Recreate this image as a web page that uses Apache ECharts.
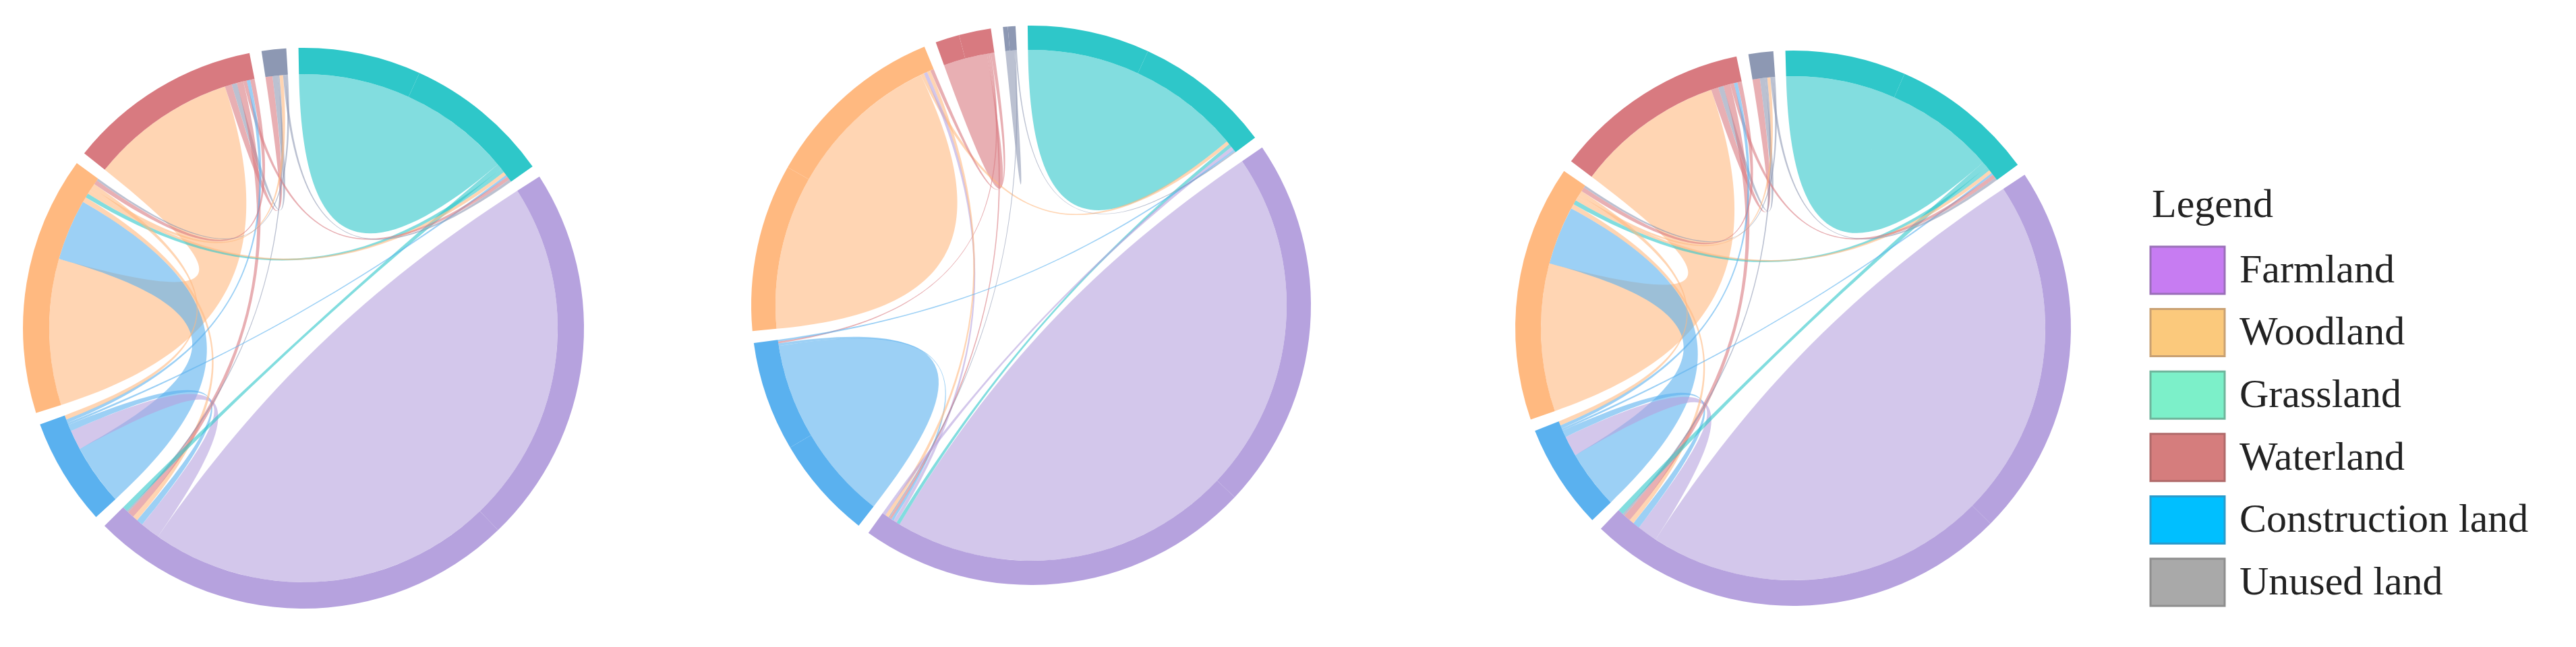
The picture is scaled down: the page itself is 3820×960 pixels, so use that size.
<!DOCTYPE html>
<html>
<head>
<meta charset="utf-8">
<title>Land use transfer chord</title>
<script src="https://cdn.jsdelivr.net/npm/echarts@6.0.0/dist/echarts.min.js"></script>
<style>
  html, body { margin: 0; padding: 0; background: #fff; }
  #container { width: 3820px; height: 960px; }
</style>
</head>
<body>
<div id="container"></div>
<script>
// order of the sectors round the ring (clockwise from the grassland/farmland gap)
const ringOrder = ['Farmland', 'Construction land', 'Woodland', 'Waterland', 'Unused land', 'Grassland'];
const ringColors = ['#b6a2de', '#5ab1ef', '#ffb980', '#d87a80', '#8d98b3', '#2ec7c9'];

const legendNames = ['Farmland', 'Woodland', 'Grassland', 'Waterland', 'Construction land', 'Unused land'];
const legendColors = ['#c77cf2', '#fbc97c', '#7cf0c9', '#d57d7d', '#00bfff', '#a9a9a9'];
const legendBorders = ['#9a6fb8', '#c9a173', '#6fb59c', '#b06a6a', '#2a9bcc', '#8e8e8e'];

// [source, target, value]
const flowsLeft = [
  ['Farmland', 'Farmland', 79],
  ['Grassland', 'Grassland', 25.5],
  ['Woodland', 'Waterland', 33.5],
  ['Construction land', 'Woodland', 14],
  ['Farmland', 'Construction land', 4.5],
  ['Waterland', 'Unused land', 1.6],
  ['Unused land', 'Waterland', 1.2],
  ['Construction land', 'Farmland', 1.5],
  ['Woodland', 'Farmland', 1.2],
  ['Waterland', 'Farmland', 1.5],
  ['Unused land', 'Farmland', 0.4],
  ['Grassland', 'Farmland', 1.2],
  ['Grassland', 'Woodland', 1],
  ['Woodland', 'Grassland', 0.8],
  ['Construction land', 'Grassland', 0.5],
  ['Waterland', 'Grassland', 0.8],
  ['Construction land', 'Waterland', 0.8],
  ['Woodland', 'Unused land', 0.8],
  ['Woodland', 'Construction land', 1],
  ['Waterland', 'Woodland', 1],
  ['Unused land', 'Grassland', 0.6],
  ['Unused land', 'Woodland', 0.5]
];

const flowsMiddle = [
  ['Farmland', 'Farmland', 78],
  ['Grassland', 'Grassland', 25.5],
  ['Woodland', 'Woodland', 35],
  ['Construction land', 'Construction land', 21.5],
  ['Waterland', 'Waterland', 5],
  ['Unused land', 'Unused land', 1],
  ['Woodland', 'Grassland', 0.8],
  ['Grassland', 'Farmland', 0.8],
  ['Farmland', 'Woodland', 0.8],
  ['Construction land', 'Farmland', 0.6],
  ['Waterland', 'Farmland', 0.5],
  ['Waterland', 'Construction land', 0.4],
  ['Unused land', 'Farmland', 0.3],
  ['Woodland', 'Farmland', 0.8],
  ['Farmland', 'Grassland', 0.8],
  ['Construction land', 'Grassland', 0.4],
  ['Waterland', 'Woodland', 0.8],
  ['Unused land', 'Grassland', 0.3]
];

const flowsRight = [
  ['Farmland', 'Farmland', 78.5],
  ['Grassland', 'Grassland', 25.3],
  ['Woodland', 'Waterland', 34.2],
  ['Construction land', 'Woodland', 13.5],
  ['Farmland', 'Construction land', 4.7],
  ['Waterland', 'Unused land', 1.7],
  ['Unused land', 'Waterland', 1.2],
  ['Construction land', 'Farmland', 1.6],
  ['Woodland', 'Farmland', 1.1],
  ['Waterland', 'Farmland', 1.6],
  ['Unused land', 'Farmland', 0.5],
  ['Grassland', 'Farmland', 1.3],
  ['Grassland', 'Woodland', 1],
  ['Woodland', 'Grassland', 0.8],
  ['Construction land', 'Grassland', 0.5],
  ['Waterland', 'Grassland', 0.9],
  ['Construction land', 'Waterland', 0.8],
  ['Woodland', 'Unused land', 0.7],
  ['Woodland', 'Construction land', 1],
  ['Waterland', 'Woodland', 1],
  ['Unused land', 'Grassland', 0.6],
  ['Unused land', 'Woodland', 0.5]
];

// gap between sectors, same unit as the flows
const GAP = 2.5;

// a land with a flow to itself is drawn as two touching halves so that the
// self flow becomes a lens over the whole sector
function chordSeries(flows, center, radius, startAngle) {
  let selfLands = flows.filter(f => f[0] === f[1]).map(f => f[0]);
  let half = name => selfLands.indexOf(name) >= 0 ? name + '#2' : name;
  let nodes = [];
  ringOrder.forEach((name, i) => {
    nodes.push({ name: name, itemStyle: { color: ringColors[i] } });
    if (selfLands.indexOf(name) >= 0) {
      nodes.push({ name: name + '#2', itemStyle: { color: ringColors[i] } });
    }
    nodes.push({ name: 'gap' + i, value: GAP, itemStyle: { color: 'rgba(255,255,255,0)' } });
  });
  let links = flows.filter(f => f[0] === f[1])
    .map(f => ({ source: f[0], target: f[0] + '#2', value: f[2] }))
    .concat(flows.filter(f => f[0] !== f[1])
      .map(f => ({ source: half(f[0]), target: half(f[1]), value: f[2] })));
  return {
    type: 'chord',
    center: center,
    radius: radius,
    startAngle: startAngle,
    clockwise: true,
    padAngle: 0,
    minAngle: 0,
    label: { show: false },
    itemStyle: { borderRadius: 0, borderWidth: 0 },
    lineStyle: { color: 'source', opacity: 0.6, width: 0 },
    emphasis: { disabled: true },
    data: nodes,
    links: links
  };
}

const font = '"Liberation Serif", "Times New Roman", serif';
let legendGraphics = [{
  type: 'text', x: 3191, y: 306,
  style: { text: 'Legend', fill: '#222', font: '60px ' + font, verticalAlign: 'middle' }
}];
legendNames.forEach((name, i) => {
  let top = 366 + i * 92.6;
  legendGraphics.push({
    type: 'rect',
    shape: { x: 3189, y: top, width: 110, height: 70 },
    style: { fill: legendColors[i], stroke: legendBorders[i], lineWidth: 3 }
  });
  legendGraphics.push({
    type: 'text', x: 3321, y: top + 37,
    style: { text: name, fill: '#222', font: '60px ' + font, verticalAlign: 'middle' }
  });
});

let options = {
  backgroundColor: '#fff',
  animation: false,
  series: [
    chordSeries(flowsLeft, [450, 487], [377, 416], 32.75),
    chordSeries(flowsMiddle, [1529, 453], [379, 415], 34.35),
    chordSeries(flowsRight, [2659, 487], [374, 412], 33.55)
  ],
  graphic: legendGraphics
};

let mychart = echarts.init(document.getElementById('container'));
mychart.setOption(options);
window.addEventListener('resize', () => { mychart.resize() });
</script>
</body>
</html>
